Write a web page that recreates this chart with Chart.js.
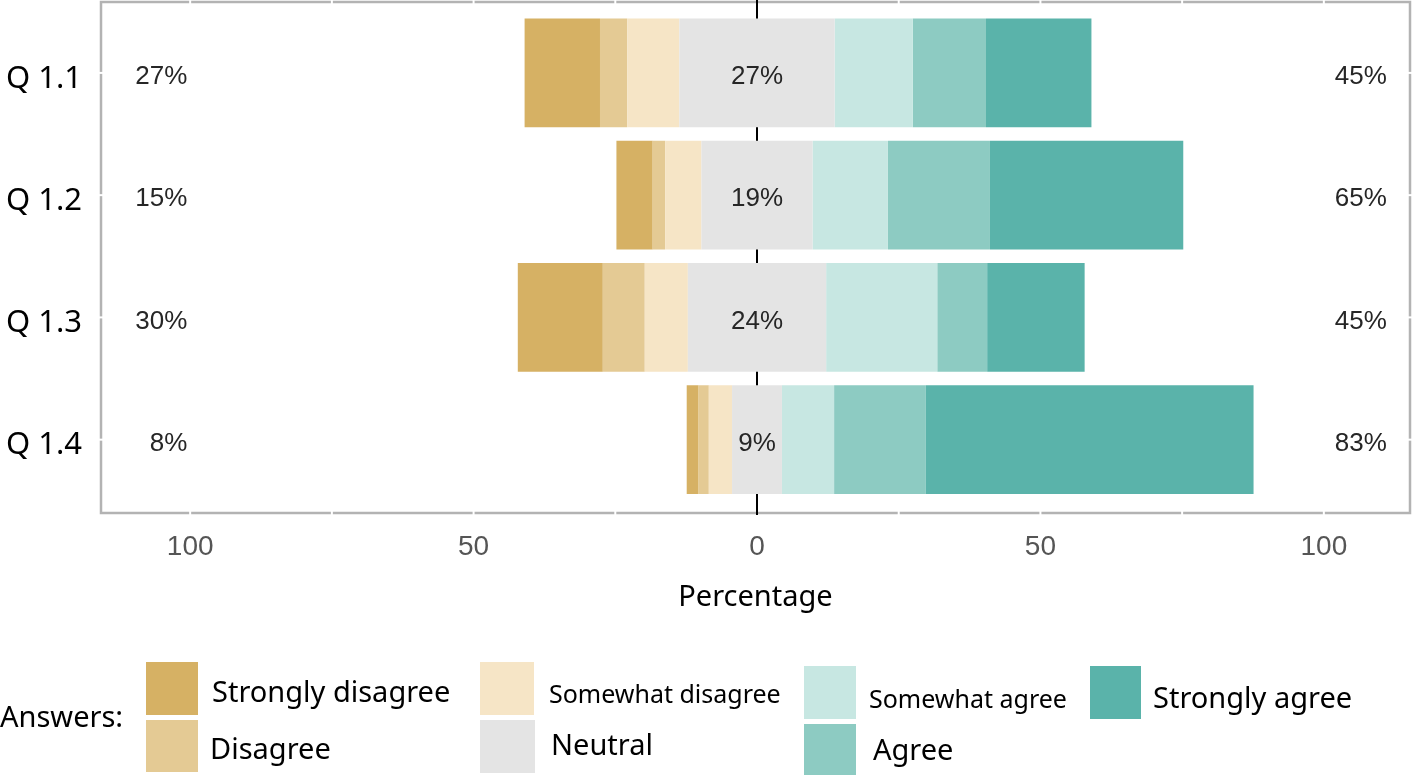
<!DOCTYPE html>
<html>
<head>
<meta charset="utf-8">
<script src="https://cdn.jsdelivr.net/npm/chart.js@4.4.0/dist/chart.umd.min.js"></script>
<style>
  html, body { margin: 0; padding: 0; background: #fff; }
  #wrap { position: relative; width: 1415px; height: 776px; overflow: hidden; }
  #likert { position: absolute; left: 0; top: 0; }
  .lg { position: absolute; font-family: "Noto Sans", sans-serif; color: #000; line-height: 1; white-space: nowrap; }
  .sw { position: absolute; }
</style>
</head>
<body>
<div id="wrap">
  <canvas id="likert" width="1415" height="776"></canvas>
  <div id="legend"></div>
</div>
<script>
const questions = ['Q 1.1', 'Q 1.2', 'Q 1.3', 'Q 1.4'];
const answers = ['Strongly disagree', 'Disagree', 'Somewhat disagree', 'Neutral', 'Somewhat agree', 'Agree', 'Strongly agree'];

// percent of answers per question
const stronglyDisagree = [13.3, 6.4, 15.0, 2.1];
const disagree = [4.8, 2.2, 7.4, 1.8];
const somewhatDisagree = [9.2, 6.4, 7.6, 4.1];
const neutral = [27.4, 19.6, 24.4, 8.8];
const somewhatAgree = [13.8, 13.3, 19.6, 9.2];
const agree = [12.9, 18.0, 8.8, 16.2];
const stronglyAgree = [18.6, 34.1, 17.2, 57.8];

// printed percentages
const lowPct = [27, 15, 30, 8];
const neutralPct = [27, 19, 24, 9];
const highPct = [45, 65, 45, 83];

const xTicks = [-100, -75, -50, -25, 0, 25, 50, 75, 100];

const colors = ['#d6b164', '#e4ca94', '#f6e5c6', '#e4e4e4', '#c7e7e2', '#8dcbc2', '#5ab3aa'];

Chart.defaults.font.family = '"Liberation Sans", Arial, sans-serif';

function pts(values, sign) {
  return values.map((v, i) => ({ x: sign * v, y: i }));
}

function ds(label, data, color) {
  return { label: label, data: data, backgroundColor: color, borderWidth: 0 };
}

// disagree side stacks to the left, agree side to the right, neutral split over zero
const datasets = [
  ds('Neutral', pts(neutral.map(v => v / 2), -1), colors[3]),
  ds('Neutral', pts(neutral.map(v => v / 2), 1), colors[3]),
  ds(answers[2], pts(somewhatDisagree, -1), colors[2]),
  ds(answers[4], pts(somewhatAgree, 1), colors[4]),
  ds(answers[1], pts(disagree, -1), colors[1]),
  ds(answers[5], pts(agree, 1), colors[5]),
  ds(answers[0], pts(stronglyDisagree, -1), colors[0]),
  ds(answers[6], pts(stronglyAgree, 1), colors[6])
];

function line(ctx, x1, y1, x2, y2) {
  ctx.beginPath();
  ctx.moveTo(x1, y1);
  ctx.lineTo(x2, y2);
  ctx.stroke();
}

const framePlugin = {
  id: 'frame',
  beforeDatasetsDraw(chart) {
    const { ctx, chartArea: a, scales: { x, y } } = chart;
    ctx.save();
    ctx.strokeStyle = '#b3b3b3';
    ctx.lineWidth = 2.5;
    ctx.strokeRect(a.left, a.top, a.right - a.left, a.bottom - a.top);
    ctx.strokeStyle = '#fff';
    ctx.lineWidth = 2;
    x.ticks.forEach(t => {
      const px = x.getPixelForValue(t.value);
      line(ctx, px, a.top - 2, px, a.top + 2);
      line(ctx, px, a.bottom - 2, px, a.bottom + 2);
    });
    y.ticks.forEach(t => {
      const py = y.getPixelForValue(t.value);
      line(ctx, a.left - 2, py, a.left + 2, py);
      line(ctx, a.right - 2, py, a.right + 2, py);
    });
    const x0 = x.getPixelForValue(0);
    ctx.strokeStyle = '#000';
    ctx.lineWidth = 2;
    line(ctx, x0, a.top - 2, x0, a.bottom + 2);
    ctx.restore();
  }
};

const pctPlugin = {
  id: 'pct',
  afterDatasetsDraw(chart) {
    const { ctx, scales: { x, y } } = chart;
    ctx.save();
    ctx.font = '26px "Liberation Sans", Arial, sans-serif';
    ctx.fillStyle = '#262626';
    ctx.textBaseline = 'middle';
    questions.forEach((q, i) => {
      const py = y.getPixelForValue(i) + 4;
      ctx.textAlign = 'right';
      ctx.fillText(lowPct[i] + '%', x.getPixelForValue(-100.5), py);
      ctx.textAlign = 'center';
      ctx.fillText(neutralPct[i] + '%', x.getPixelForValue(0), py);
      ctx.textAlign = 'right';
      ctx.fillText(highPct[i] + '%', x.getPixelForValue(111.1), py);
    });
    ctx.restore();
  }
};

const ctx = document.getElementById('likert').getContext('2d');

const chart = new Chart(ctx, {
  type: 'bar',
  data: { datasets: datasets },
  options: {
    indexAxis: 'y',
    responsive: false,
    animation: false,
    datasets: {
      bar: { categoryPercentage: 1, barPercentage: 0.89 }
    },
    layout: { padding: { top: 2, right: 5, bottom: 160.6, left: 0 } },
    plugins: {
      legend: { display: false },
      tooltip: { enabled: false }
    },
    scales: {
      x: {
        type: 'linear',
        stacked: true,
        min: -115.73,
        max: 115.2,
        grid: { display: false, drawTicks: false },
        border: { display: false },
        afterBuildTicks: s => { s.ticks = xTicks.map(v => ({ value: v })); },
        afterFit: s => { s.paddingLeft = 0; s.paddingRight = 0; },
        ticks: {
          autoSkip: false,
          maxRotation: 0,
          padding: 17,
          color: '#555',
          font: { size: 28 },
          callback: v => (v % 50 === 0 ? String(Math.abs(v)) : '')
        },
        title: {
          display: true,
          text: 'Percentage',
          color: '#000',
          font: { family: '"Noto Sans", sans-serif', size: 29 },
          padding: { top: 0, bottom: 0 }
        }
      },
      y: {
        type: 'linear',
        stacked: true,
        offset: false,
        reverse: true,
        min: -0.58,
        max: 3.6,
        grid: { display: false, drawTicks: false },
        border: { display: false },
        afterBuildTicks: s => { s.ticks = questions.map((q, i) => ({ value: i })); },
        afterFit: s => { s.width = 101; s.paddingTop = 0; s.paddingBottom = 0; },
        ticks: {
          padding: 19,
          labelOffset: 6,
          color: '#000',
          font: { family: '"Noto Sans", sans-serif', size: 31 },
          callback: v => questions[v]
        }
      }
    }
  },
  plugins: [framePlugin, pctPlugin]
});

// legend: swatch box [left, top, w, h], label left, label middle y, font size
const legendLayout = [
  [146, 662, 52, 53, 212, 691, 29],
  [146, 720, 52, 52, 210, 748, 29],
  [480, 662, 54, 53, 549, 694, 25],
  [480, 720, 55, 53, 551, 744, 29],
  [804, 666, 52, 53, 869, 699, 25],
  [804, 724, 52, 51, 873, 749, 29],
  [1090, 666, 51, 53, 1153, 697, 29]
];

const legend = document.getElementById('legend');
function addText(text, left, mid, size) {
  const t = document.createElement('div');
  t.className = 'lg';
  t.textContent = text;
  t.style.left = left + 'px';
  t.style.top = (mid - size * 0.53) + 'px';
  t.style.fontSize = size + 'px';
  legend.appendChild(t);
}
addText('Answers:', 0, 716, 29);
answers.forEach((name, i) => {
  const [bx, by, bw, bh, tx, ty, fs] = legendLayout[i];
  const sw = document.createElement('div');
  sw.className = 'sw';
  sw.style.left = bx + 'px';
  sw.style.top = by + 'px';
  sw.style.width = bw + 'px';
  sw.style.height = bh + 'px';
  sw.style.background = colors[i];
  legend.appendChild(sw);
  addText(name, tx, ty, fs);
});
</script>
</body>
</html>
